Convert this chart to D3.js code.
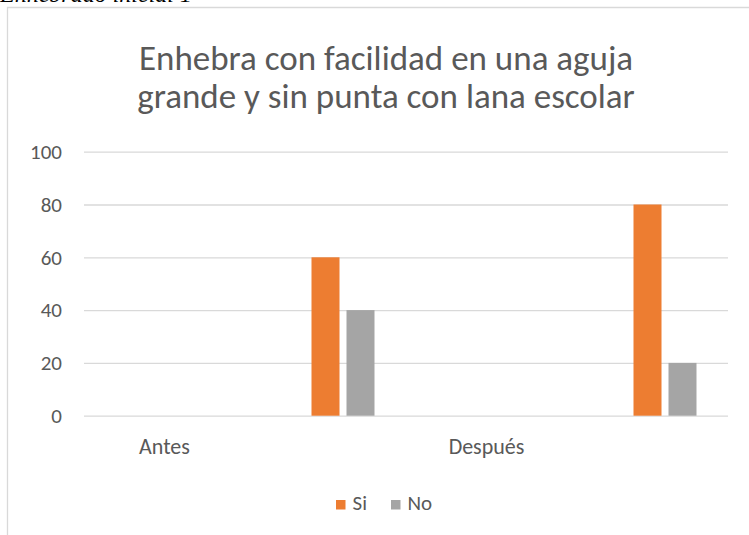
<!DOCTYPE html>
<html>
<head>
<meta charset="utf-8">
<script src="https://cdn.jsdelivr.net/npm/d3@7"></script>
<style>
  body { margin: 0; background: #fff; overflow: hidden; }
  svg text { font-family: Carlito, Calibri, Lato, sans-serif; }
</style>
</head>
<body>
<svg id="canvas"></svg>
<script>
// data
let categories = ['Antes', '', 'Después', ''];
let seriesNames = ['Serie1', 'Si', 'No'];   // first series is empty, not in legend
let serie1Values = [null, null, null, null];
let siValues = [null, 60, null, 80];
let noValues = [null, 40, null, 20];
let yTicks = [0, 20, 40, 60, 80, 100];
let legendNames = ['Si', 'No'];

let width = 749;
let height = 535;
let colors = { Serie1: '#4472C4', Si: '#ED7D31', No: '#A5A5A5' };

let plotLeft = 84, plotRight = 728, plotTop = 151.7, plotBottom = 415.7;

let canvas = d3.select('#canvas')
    .attr('width', width)
    .attr('height', height);

canvas.append('rect')
    .attr('width', width).attr('height', height)
    .attr('fill', '#fff');

// caption above the chart, mostly cut off in the original
canvas.append('text')
    .attr('x', 0).attr('y', 1.5)
    .style('font-family', '"Liberation Serif", serif')
    .style('font-style', 'italic')
    .style('font-size', '24px')
    .attr('fill', '#000')
    .text('Enhebrado inicial 1');

// chart border
canvas.append('path')
    .attr('d', `M7.5,${height} V7.5 H${width}`)
    .attr('fill', 'none')
    .attr('stroke', '#d9d9d9')
    .attr('stroke-width', 1.3);

// title
let titleLines = ['Enhebra con facilidad en una aguja', 'grande y sin punta con lana escolar'];
canvas.append('text')
    .attr('text-anchor', 'middle')
    .attr('fill', '#595959')
    .style('font-size', '35px')
    .selectAll('tspan')
    .data(titleLines)
    .enter()
    .append('tspan')
    .attr('x', 386)
    .attr('y', (d, i) => 70 + i * 38)
    .text(d => d);

let xScale = d3.scaleBand()
    .domain(d3.range(categories.length))
    .range([plotLeft, plotRight]);

let innerScale = d3.scaleBand()
    .domain(seriesNames)
    .range([31.5, 129.5])
    .paddingInner(0.2);

let yScale = d3.scaleLinear()
    .domain([0, 100])
    .range([plotBottom, plotTop]);

// y axis with gridlines
let yAxis = d3.axisLeft(yScale)
    .tickValues(yTicks)
    .tickSizeInner(-(plotRight - plotLeft))
    .tickSizeOuter(0)
    .tickPadding(22);

let yG = canvas.append('g')
    .attr('transform', `translate(${plotLeft}, 0)`)
    .call(yAxis);
yG.select('.domain').remove();
yG.selectAll('line').attr('stroke', '#d9d9d9').attr('stroke-width', 1.3);
yG.selectAll('text')
    .attr('fill', '#595959')
    .style('font-size', '21px');

// bars
let seriesData = [
    { name: 'Serie1', values: serie1Values },
    { name: 'Si', values: siValues },
    { name: 'No', values: noValues }
];

seriesData.forEach(s => {
    canvas.append('g')
        .selectAll('rect')
        .data(s.values.map((v, i) => ({ i: i, v: v })).filter(d => d.v != null))
        .enter()
        .append('rect')
        .attr('x', d => xScale(d.i) + innerScale(s.name))
        .attr('width', innerScale.bandwidth())
        .attr('y', d => yScale(d.v))
        .attr('height', d => yScale(0) - yScale(d.v))
        .attr('fill', colors[s.name]);
});

// x axis labels
let xAxis = d3.axisBottom(xScale)
    .tickFormat(i => categories[i])
    .tickSize(0)
    .tickPadding(23);

let xG = canvas.append('g')
    .attr('transform', `translate(0, ${plotBottom})`)
    .call(xAxis);
xG.select('.domain').remove();
xG.selectAll('text')
    .attr('fill', '#595959')
    .style('font-size', '22px');

// legend
let legendX = [336, 391];
let legend = canvas.append('g')
    .selectAll('g')
    .data(legendNames)
    .enter()
    .append('g')
    .attr('transform', (d, i) => `translate(${legendX[i]}, 500)`);

legend.append('rect')
    .attr('width', 9.5).attr('height', 9.5)
    .attr('fill', d => colors[d]);

legend.append('text')
    .attr('x', 16.5).attr('y', 9.5)
    .attr('fill', '#595959')
    .style('font-size', '21px')
    .text(d => d);
</script>
</body>
</html>
